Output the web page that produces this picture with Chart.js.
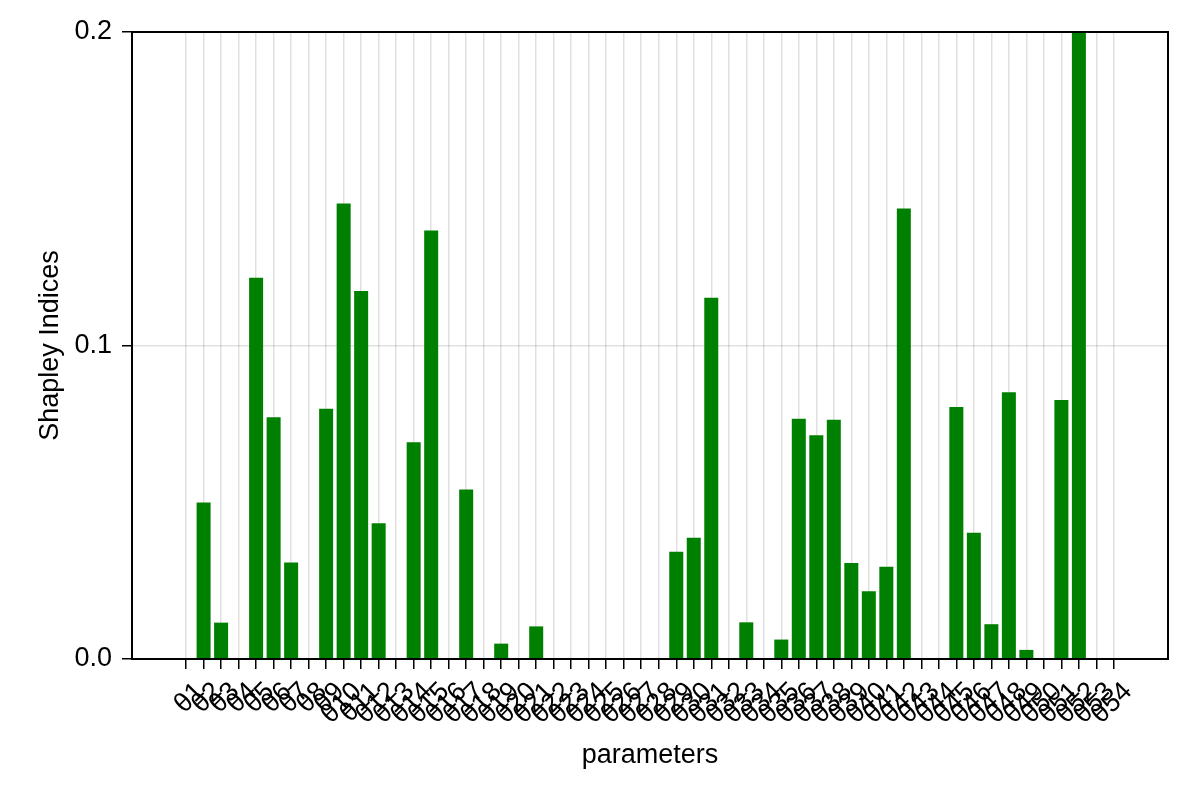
<!DOCTYPE html>
<html>
<head>
<meta charset="utf-8">
<script src="https://cdn.jsdelivr.net/npm/chart.js@4/dist/chart.umd.min.js"></script>
<style>
  html, body { margin: 0; padding: 0; background: #ffffff; }
  canvas { display: block; }
</style>
</head>
<body>
<canvas id="c" width="1200" height="800"></canvas>
<script>
// ---- data ----
const categories = [
  'θ1','θ2','θ3','θ4','θ5','θ6','θ7','θ8','θ9','θ10',
  'θ11','θ12','θ13','θ14','θ15','θ16','θ17','θ18','θ19','θ20',
  'θ21','θ22','θ23','θ24','θ25','θ26','θ27','θ28','θ29','θ30',
  'θ31','θ32','θ33','θ34','θ35','θ36','θ37','θ38','θ39','θ40',
  'θ41','θ42','θ43','θ44','θ45','θ46','θ47','θ48','θ49','θ50',
  'θ51','θ52','θ53','θ54'
];
const shapleyValues = [
  0, 0.0499, 0.0116, 0, 0.1216, 0.0771, 0.0308, 0, 0.0798, 0.1453,
  0.1174, 0.0433, 0, 0.0691, 0.1367, 0, 0.0541, 0, 0.0049, 0,
  0.0104, 0, 0, 0, 0, 0, 0, 0, 0.0342, 0.0387,
  0.1152, 0, 0.0117, 0, 0.0062, 0.0766, 0.0714, 0.0763, 0.0306, 0.0216,
  0.0294, 0.1437, 0, 0, 0.0804, 0.0403, 0.0111, 0.0851, 0.0029, 0,
  0.0826, 0.2, 0, 0
];
const yTickValues = [0, 0.1, 0.2];
const xLabel = 'parameters';
const yLabel = 'Shapley Indices';

// ---- styles ----
const FONT = "'Liberation Sans', Arial, Helvetica, sans-serif";
const FS = 27;
const GRID = 'rgba(0,0,0,0.12)';

const framePlugin = {
  id: 'frame',
  afterDraw(chart) {
    const a = chart.chartArea, ctx = chart.ctx;
    ctx.save();
    ctx.strokeStyle = '#000';
    ctx.lineWidth = 2;
    ctx.strokeRect(a.left, a.top, a.right - a.left, a.bottom - a.top);
    ctx.restore();
  }
};

new Chart(document.getElementById('c'), {
  type: 'bar',
  data: {
    datasets: [{
      data: shapleyValues.map((v, i) => ({ x: i + 1, y: v })),
      backgroundColor: '#008000',
      borderWidth: 0,
      barPercentage: 0.8,
      categoryPercentage: 1.0
    }]
  },
  options: {
    responsive: false,
    animation: false,
    devicePixelRatio: 1,
    layout: { padding: { left: 0, top: 32, right: 32, bottom: 0 } },
    plugins: { legend: { display: false }, tooltip: { enabled: false } },
    scales: {
      x: {
        type: 'linear',
        min: -2.09,
        max: 57.09,
        offset: false,
        afterBuildTicks(scale) {
          scale.ticks = categories.map((_, i) => ({ value: i + 1 }));
        },
        afterFit(scale) {
          scale.height = 141;
          scale.paddingLeft = 0; scale.paddingRight = 0;
        },
        border: { display: false },
        grid: {
          offset: false,
          color: GRID, lineWidth: 1.5,
          drawTicks: true, tickLength: 10, tickColor: '#000', tickWidth: 1.5
        },
        ticks: {
          autoSkip: false,
          minRotation: 45, maxRotation: 45,
          padding: 7,
          labelOffset: 14,
          color: '#000',
          font: { family: FONT, size: FS },
          callback: (v) => categories[Math.round(v) - 1]
        },
        title: {
          display: true, text: xLabel, color: '#000',
          font: { family: FONT, size: FS },
          padding: { top: 0, bottom: 28 }
        }
      },
      y: {
        type: 'linear',
        min: 0, max: 0.2,
        afterBuildTicks(scale) {
          scale.ticks = yTickValues.map(v => ({ value: v }));
        },
        afterFit(scale) {
          scale.width = 132;
          scale.paddingTop = 0; scale.paddingBottom = 0;
        },
        border: { display: false },
        grid: {
          offset: false,
          color: GRID, lineWidth: 1.5,
          drawTicks: true, tickLength: 10, tickColor: '#000', tickWidth: 1.5
        },
        ticks: {
          padding: 10,
          color: '#000',
          font: { family: FONT, size: FS },
          callback: (v) => Number(v).toFixed(1)
        },
        title: {
          display: true, text: yLabel, color: '#000',
          font: { family: FONT, size: FS },
          padding: { top: 34, bottom: 0 }
        }
      }
    }
  },
  plugins: [framePlugin]
});
</script>
</body>
</html>
